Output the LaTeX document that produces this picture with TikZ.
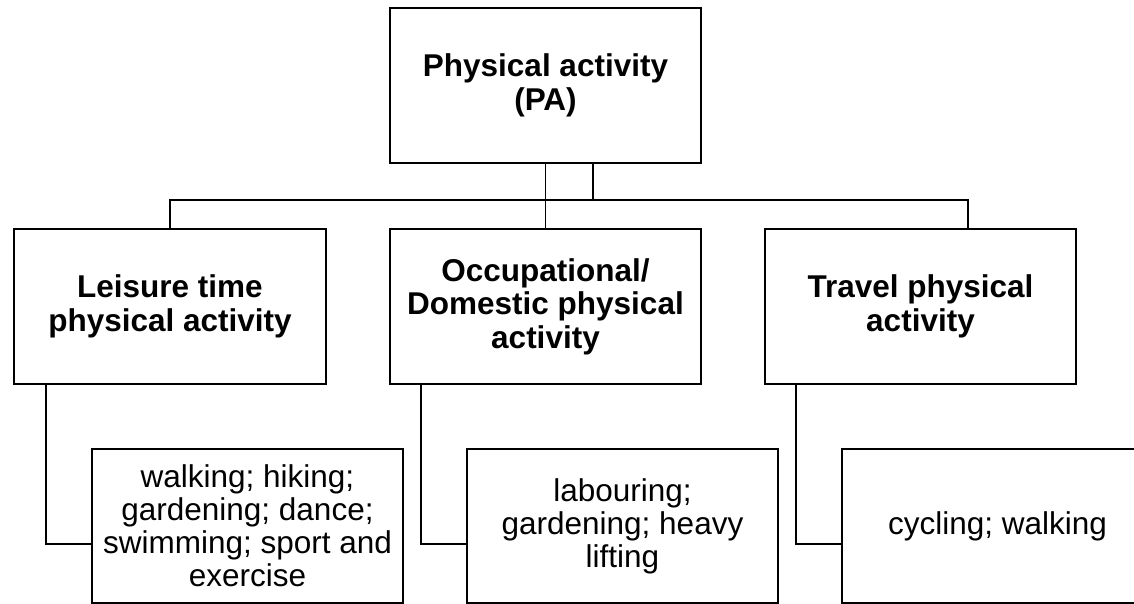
\documentclass[tikz,border=0pt]{standalone}
\usepackage{fontspec}
\setmainfont{Liberation Sans}
\begin{document}
\begin{tikzpicture}[x=1pt,y=-1pt,
  box/.style={draw, line width=1.3pt, rectangle, inner sep=0pt,
    minimum width=311pt, minimum height=155pt, align=center,
    font=\fontsize{31.5}{33}\selectfont},
  head/.style={box, font=\fontsize{31.5}{33.5}\selectfont\bfseries},
  link/.style={line width=1.3pt}]
\useasboundingbox (0,0) rectangle (1134,604);
\clip (0,0) rectangle (1134,604);
\fill[white] (0,0) rectangle (1134,604);

% top level
\node[head] (pa) at (545.5,85.5) {Physical activity\\(PA)};

% categories
\node[head, minimum width=312pt] (lei) at (170,306.5) {Leisure time\\physical activity};
\node[head] (occ) at (545.5,306.5) {Occupational/\\Domestic physical\\activity};
\node[head] (trv) at (920.5,306.5) {Travel physical\\activity};

% examples
\node[box, minimum height=154pt] (leiex) at (247.5,526) {walking; hiking;\\gardening; dance;\\swimming; sport and\\exercise};
\node[box, minimum height=154pt] (occex) at (622.5,526) {labouring;\\gardening; heavy\\lifting};
\node[box, minimum height=154pt] (trvex) at (997.5,526) {cycling; walking};

% bus between the top box and the categories
\coordinate (busL) at (170,200);
\coordinate (busR) at (968,200);
\coordinate (tap) at (593,200);
\draw[link] (pa.south) -- (occ.north);
\draw[link] (tap |- pa.south) -- (tap);
\draw[link] (busL |- lei.north) -- (busL) -- (busR) -- (busR |- trv.north);

% elbows to the examples
\coordinate (e1) at (46,544);
\coordinate (e2) at (421,544);
\coordinate (e3) at (796,544);
\draw[link] (e1 |- lei.south) -- (e1) -- (e1 -| leiex.west);
\draw[link] (e2 |- occ.south) -- (e2) -- (e2 -| occex.west);
\draw[link] (e3 |- trv.south) -- (e3) -- (e3 -| trvex.west);
\end{tikzpicture}
\end{document}
